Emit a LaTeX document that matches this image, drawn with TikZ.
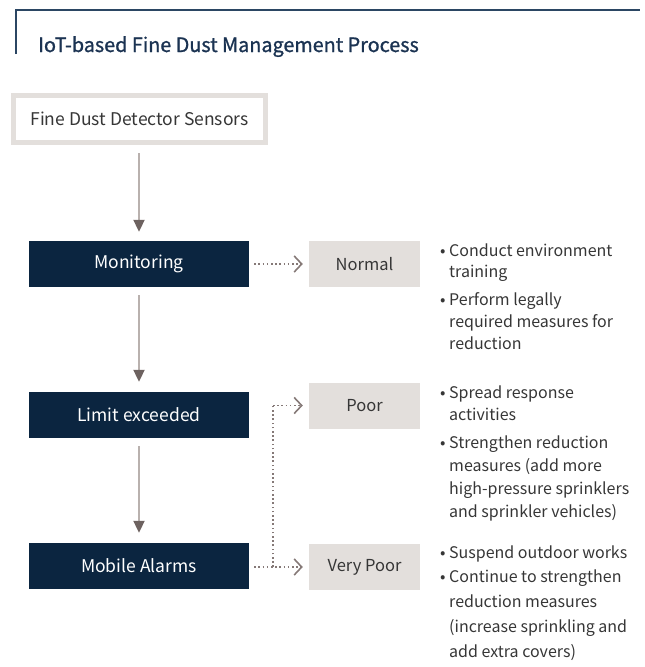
\documentclass[tikz,border=0pt]{standalone}
\usepackage{fontspec}
\setmainfont{Noto Sans CJK KR}
\newfontfamily\titlefont[FakeBold=1.1]{Noto Sans CJK KR}
\usetikzlibrary{arrows.meta}
\definecolor{navy}{HTML}{0B2540}
\definecolor{titlec}{HTML}{1B3352}
\definecolor{framec}{HTML}{2B4663}
\definecolor{lightbox}{HTML}{E3DFDC}
\definecolor{shaft}{HTML}{B9B1AE}
\definecolor{headc}{HTML}{6D6260}
\definecolor{dotc}{HTML}{857977}
\definecolor{bodytext}{HTML}{363636}
\begin{document}
\begin{tikzpicture}[x=1pt,y=-1pt,
  darkbox/.style={fill=navy,text=white,minimum width=220pt,minimum height=46pt,inner sep=0pt,font=\fontsize{17.5}{20}\selectfont},
  levelbox/.style={fill=lightbox,text=bodytext,minimum width=111pt,minimum height=46pt,inner sep=0pt,font=\fontsize{16.5}{20}\selectfont},
  flow/.style={draw=shaft,line width=2pt,-{Triangle[length=12pt,width=11pt,color=headc]}},
  dotflow/.style={draw=dotc,line width=1.6pt,dash pattern=on 1.6pt off 2.6pt,-{Straight Barb[length=7.5pt,width=16pt,line width=1.6pt]}},
  dotline/.style={draw=dotc,line width=1.6pt,dash pattern=on 1.6pt off 2.6pt},
  bullettext/.style={anchor=base west,align=left,inner sep=0pt,text=bodytext},
  bulletdot/.style={anchor=base west,inner sep=0pt,text=bodytext,font=\fontsize{16}{22}\selectfont}
]
\useasboundingbox (0,0) rectangle (645,667);
% frame
\draw[framec,line width=1.5pt] (16,54) -- (16,10) -- (640,10);
\node[anchor=base west,inner sep=0pt,text=titlec,font=\fontsize{19.8}{22}\titlefont] (title) at (38,52) {IoT-based Fine Dust Management Process};

% left column
\node[draw=lightbox,line width=5pt,fill=white,minimum width=252pt,minimum height=47pt,inner sep=0pt,text=bodytext,font=\fontsize{17.5}{20}\selectfont] (sensor) at (139.5,119) {Fine Dust Detector Sensors};
\node[darkbox] (mon) at (139,264) {Monitoring};
\node[darkbox] (lim) at (139,415) {Limit exceeded};
\node[darkbox] (mob) at (139,566) {Mobile Alarms};

\draw[flow] ([yshift=-8pt]sensor.south -| mon.north) -- ([yshift=9pt]mon.north);
\draw[flow] ([yshift=-8pt]mon.south) -- ([yshift=10pt]lim.north);
\draw[flow] ([yshift=-8pt]lim.south) -- ([yshift=10pt]mob.north);

% level boxes
\node[levelbox] (normal) at (364.5,264) {Normal};
\node[levelbox] (poor) at (364.5,405.5) {Poor};
\node[levelbox] (vpoor) at (364.5,567) {Very Poor};

\coordinate (junc) at (273,567);
\coordinate (turn) at (273,405.5);
\draw[dotflow] ([xshift=5pt]mon.east |- normal.west) -- ([xshift=-6pt]normal.west);
\draw[dotflow] ([xshift=5pt]mob.east |- vpoor.west) -- ([xshift=-6pt]vpoor.west);
\draw[dotline] (junc) -- (turn);
\draw[dotflow] (turn) -- ([xshift=-6pt]poor.west);

% bullet texts (node base = last line baseline)
\node[bulletdot] (b1) at (440,256) {•};
\node[bullettext,font=\fontsize{16}{21}\selectfont] (t1) at (449,277) {Conduct environment\\training};
\node[bulletdot] (b2) at (440,305) {•};
\node[bullettext,font=\fontsize{16}{22}\selectfont] (t2) at (449,349) {Perform legally\\required measures for\\reduction};

\node[bulletdot] (b3) at (440,398) {•};
\node[bullettext,font=\fontsize{16}{22}\selectfont] (t3) at (449,420) {Spread response\\activities};
\node[bulletdot] (b4) at (440,448) {•};
\node[bullettext,font=\fontsize{16}{23}\selectfont] (t4) at (449,517) {Strengthen reduction\\measures (add more\\high-pressure sprinklers\\and sprinkler vehicles)};

\node[bulletdot] (b5) at (440,558) {•};
\node[bullettext,font=\fontsize{16}{22}\selectfont] (t5) at (449,558) {Suspend outdoor works};
\node[bulletdot] (b6) at (440,582) {•};
\node[bullettext,font=\fontsize{16}{25}\selectfont] (t6) at (449,657) {Continue to strengthen\\reduction measures\\(increase sprinkling and\\add extra covers)};
\end{tikzpicture}
\end{document}
